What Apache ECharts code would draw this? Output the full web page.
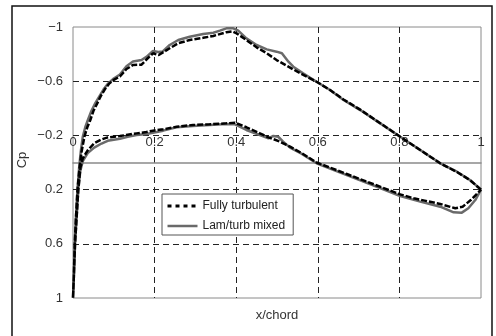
<!DOCTYPE html>
<html><head><meta charset="utf-8">
<script src="https://cdn.jsdelivr.net/npm/echarts@6/dist/echarts.min.js"></script>
<style>html,body{margin:0;padding:0;background:#fff}#c{width:496px;height:336px}</style>
</head><body><div id="c"></div>
<script>
// ---- data ----
const xTicks = [0, 0.2, 0.4, 0.6, 0.8, 1];
const cpTicks = [-1, -0.6, -0.2, 0.2, 0.6, 1];
const seriesNames = ['Fully turbulent', 'Lam/turb mixed'];
const axisTitles = ['x/chord', 'Cp'];

// Fully turbulent, suction side (leading edge -> trailing edge) [x/chord, Cp]
const turbUpper = [[0,1.0],[0.002,0.85],[0.004,0.62],[0.007,0.42],[0.011,0.2],[0.016,0.04],[0.021,-0.08],[0.028,-0.19],
 [0.035,-0.26],[0.042,-0.31],[0.05,-0.38],[0.06,-0.44],[0.068,-0.49],[0.078,-0.54],[0.088,-0.58],[0.1,-0.61],
 [0.115,-0.635],[0.131,-0.69],[0.147,-0.72],[0.168,-0.722],[0.18,-0.76],[0.196,-0.806],[0.21,-0.793],[0.237,-0.843],
 [0.258,-0.88],[0.286,-0.904],[0.319,-0.92],[0.344,-0.934],[0.376,-0.962],[0.39,-0.968],[0.401,-0.953],[0.425,-0.904],
 [0.45,-0.85],[0.475,-0.806],[0.499,-0.756],[0.528,-0.707],[0.55,-0.67],[0.597,-0.596],[0.63,-0.535],[0.663,-0.465],
 [0.704,-0.39],[0.753,-0.29],[0.802,-0.19],[0.851,-0.092],[0.9,0.006],[0.941,0.07],[0.973,0.13],[1.0,0.2]];
// Fully turbulent, pressure side
const turbLower = [[0.002,0.85],[0.005,0.6],[0.009,0.4],[0.013,0.2],[0.018,0.04],[0.024,-0.03],[0.036,-0.09],
 [0.052,-0.142],[0.07,-0.17],[0.085,-0.185],[0.115,-0.195],[0.134,-0.205],[0.156,-0.215],[0.18,-0.225],[0.196,-0.235],
 [0.221,-0.245],[0.254,-0.264],[0.294,-0.277],[0.335,-0.282],[0.376,-0.289],[0.397,-0.294],[0.425,-0.26],[0.458,-0.215],
 [0.479,-0.186],[0.507,-0.154],[0.532,-0.117],[0.56,-0.07],[0.597,0.0],[0.671,0.085],[0.745,0.17],[0.802,0.235],
 [0.835,0.264],[0.9,0.306],[0.937,0.338],[0.955,0.326],[0.975,0.277],[0.987,0.24],[1.0,0.2]];
// Lam/turb mixed, suction side
const mixUpper = [[0,1.0],[0.002,0.85],[0.004,0.62],[0.007,0.42],[0.011,0.2],[0.015,0.04],[0.019,-0.08],[0.024,-0.19],
 [0.03,-0.26],[0.036,-0.31],[0.045,-0.38],[0.055,-0.44],[0.065,-0.49],[0.075,-0.54],[0.085,-0.58],[0.1,-0.62],
 [0.115,-0.65],[0.131,-0.71],[0.147,-0.745],[0.168,-0.756],[0.18,-0.78],[0.196,-0.823],[0.209,-0.815],[0.22,-0.82],
 [0.237,-0.867],[0.258,-0.904],[0.286,-0.928],[0.319,-0.948],[0.344,-0.958],[0.36,-0.973],[0.376,-0.99],[0.393,-0.99],
 [0.405,-0.973],[0.425,-0.916],[0.45,-0.867],[0.475,-0.835],[0.499,-0.818],[0.512,-0.806],[0.528,-0.744],[0.54,-0.707],
 [0.564,-0.658],[0.597,-0.596],[0.63,-0.535],[0.663,-0.461],[0.704,-0.387],[0.753,-0.289],[0.802,-0.19],[0.851,-0.092],
 [0.9,0.006],[0.941,0.068],[0.973,0.129],[1.0,0.2]];
// Lam/turb mixed, pressure side
const mixLower = [[0.002,0.85],[0.005,0.6],[0.009,0.4],[0.013,0.2],[0.018,0.06],[0.024,-0.01],[0.036,-0.07],
 [0.052,-0.11],[0.07,-0.14],[0.085,-0.16],[0.115,-0.175],[0.134,-0.19],[0.156,-0.203],[0.18,-0.21],[0.196,-0.22],
 [0.221,-0.235],[0.254,-0.26],[0.294,-0.269],[0.335,-0.277],[0.376,-0.284],[0.397,-0.282],[0.425,-0.24],[0.458,-0.203],
 [0.479,-0.178],[0.491,-0.196],[0.503,-0.19],[0.515,-0.154],[0.532,-0.11],[0.56,-0.065],[0.597,0.006],[0.671,0.092],
 [0.745,0.179],[0.802,0.247],[0.851,0.289],[0.9,0.326],[0.933,0.368],[0.953,0.37],[0.969,0.338],[0.986,0.277],[1.0,0.2]];

// ---- chart ----
const loop = (up, lo) => up.slice().reverse().concat(lo);
const FONT = '"Liberation Sans", Arial, sans-serif';
const fmt = v => (v < 0 ? '\u2212' : '') + parseFloat(Math.abs(v).toFixed(2));
const chart = echarts.init(document.getElementById('c'), null, {renderer: 'canvas'});
const gridDash = {color: '#222', type: [6, 4], width: 1};
const GRID = {left: 73, right: 15, top: 27, bottom: 38};
const plotH = 336 - GRID.top - GRID.bottom;
chart.setOption({
  animation: false,
  backgroundColor: '#fff',
  textStyle: {fontFamily: FONT},
  grid: Object.assign({show: true, borderColor: '#8a8a8a', borderWidth: 1}, GRID),
  legend: {
    data: [
      {name: seriesNames[0], lineStyle: {color: '#000', width: 3, type: [4, 4]}},
      {name: seriesNames[1], lineStyle: {color: '#6a6a6a', width: 2.5, type: 'solid'}}
    ],
    orient: 'vertical', left: 162, top: 194,
    backgroundColor: '#fff', borderColor: '#555', borderWidth: 1, borderRadius: 0,
    padding: [6, 8, 3, 4], itemWidth: 30, itemHeight: 12, itemGap: 8,
    itemStyle: {color: 'rgba(0,0,0,0)', borderWidth: 0, opacity: 0},
    textStyle: {fontSize: 12, color: '#222', fontFamily: FONT}
  },
  xAxis: [{
    type: 'value', min: xTicks[0], max: xTicks[xTicks.length - 1], interval: 0.2, position: 'bottom',
    axisLine: {show: true, onZero: true, lineStyle: {color: '#8a8a8a', width: 1.5}},
    axisTick: {show: false}, axisLabel: {show: false},
    splitLine: {show: true, showMinLine: false, showMaxLine: false, lineStyle: gridDash}
  }, {
    type: 'value', min: xTicks[0], max: xTicks[xTicks.length - 1], interval: 0.2, position: 'top',
    offset: -plotH / 2,
    axisLine: {show: false, onZero: false}, axisTick: {show: false}, splitLine: {show: false},
    axisLabel: {margin: 14, fontSize: 13, color: '#333', fontFamily: FONT, formatter: fmt}
  }],
  yAxis: {
    type: 'value', inverse: true, min: cpTicks[0], max: cpTicks[cpTicks.length - 1], interval: 0.4,
    axisLine: {show: false}, axisTick: {show: false},
    axisLabel: {margin: 10, fontSize: 13, color: '#333', fontFamily: FONT, formatter: fmt},
    splitLine: {show: true, showMinLine: false, showMaxLine: false, lineStyle: gridDash}
  },
  series: [
    {name: seriesNames[1], type: 'line', xAxisIndex: 0, data: loop(mixUpper, mixLower), symbol: 'none', showSymbol: false,
     lineStyle: {color: '#6a6a6a', width: 2.5}, itemStyle: {color: '#6a6a6a'}, z: 2},
    {name: seriesNames[0], type: 'line', xAxisIndex: 0, data: loop(turbUpper, turbLower), symbol: 'none', showSymbol: false,
     lineStyle: {color: '#000', width: 2.5, type: [6, 2]}, itemStyle: {color: '#000'}, z: 3}
  ],
  graphic: [
    {type: 'rect', silent: true, shape: {x: 12, y: 6, width: 480, height: 340},
     style: {fill: 'none', stroke: '#111', lineWidth: 1.5}},
    {type: 'text', x: 277, y: 315, silent: true,
     style: {text: axisTitles[0], fontSize: 13, fill: '#333', fontFamily: FONT, align: 'center', verticalAlign: 'middle'}},
    {type: 'text', x: 22, y: 160, rotation: Math.PI / 2, silent: true,
     style: {text: axisTitles[1], fontSize: 13, fill: '#333', fontFamily: FONT, align: 'center', verticalAlign: 'middle'}}
  ]
});
</script></body></html>
